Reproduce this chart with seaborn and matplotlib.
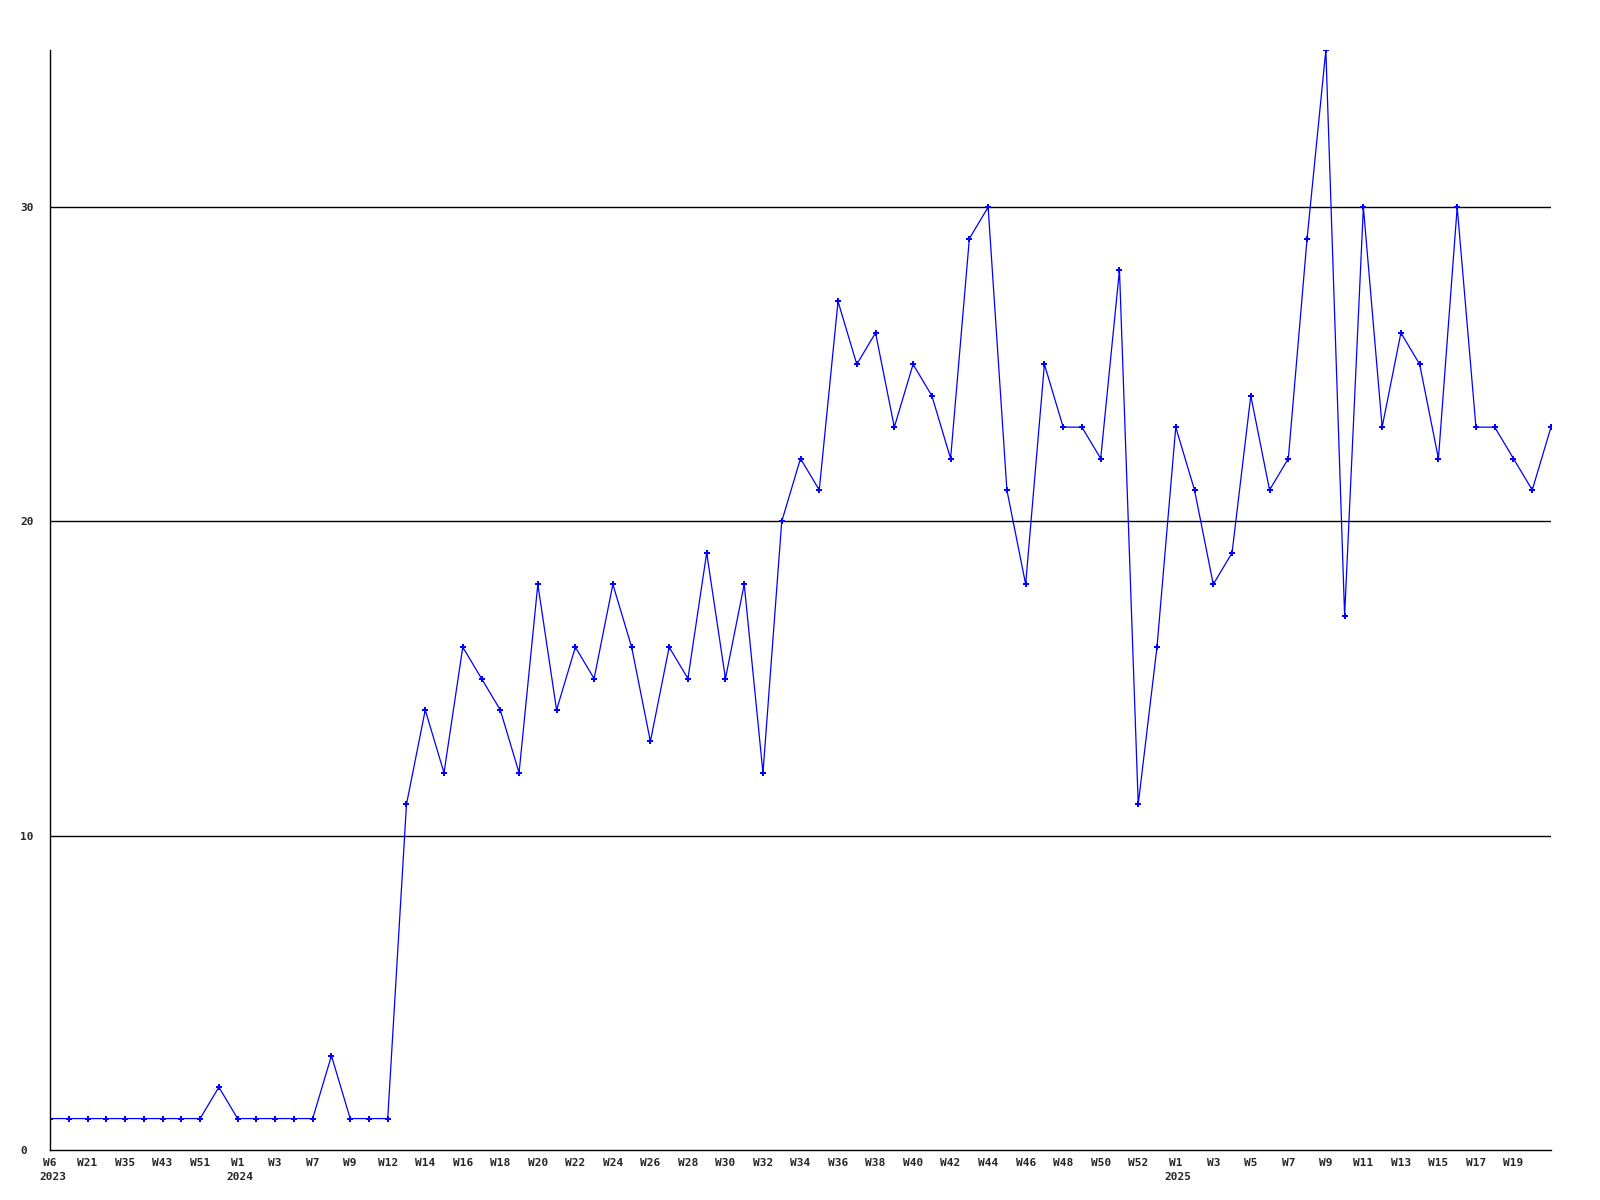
# -*- coding: utf-8 -*-
"""
Weekly count line chart, W6 2023 to W21 2025.
"""

import matplotlib
matplotlib.use("Agg")
import matplotlib.pyplot as plt
import matplotlib.transforms as mtransforms
import seaborn as sns
import pandas as pd
import numpy as np

# weekly values, one per point (weeks without data are skipped)
counts = [1, 1, 1, 1, 1, 1, 1, 1, 1, 2,
          1, 1, 1, 1, 1, 3, 1, 1, 1, 11,
          14, 12, 16, 15, 14, 12, 18, 14, 16, 15,
          18, 16, 13, 16, 15, 19, 15, 18, 12, 20,
          22, 21, 27, 25, 26, 23, 25, 24, 22, 29,
          30, 21, 18, 25, 23, 23, 22, 28, 11, 16,
          23, 21, 18, 19, 24, 21, 22, 29, 35, 17,
          30, 23, 26, 25, 22, 30, 23, 23, 22, 21,
          23]

# every other point carries a label
week_labels = ['W6', 'W21', 'W35', 'W43', 'W51', 'W1', 'W3', 'W7', 'W9', 'W12',
               'W14', 'W16', 'W18', 'W20', 'W22', 'W24', 'W26', 'W28', 'W30', 'W32',
               'W34', 'W36', 'W38', 'W40', 'W42', 'W44', 'W46', 'W48', 'W50', 'W52',
               'W1', 'W3', 'W5', 'W7', 'W9', 'W11', 'W13', 'W15', 'W17', 'W19']
# year markers: (label index, year)
year_marks = [(0, '2023'), (5, '2024'), (30, '2025')]

y_ticks = [0, 10, 20, 30]

df = pd.DataFrame({'idx': np.arange(len(counts)), 'count': counts})

sns.set_style('white')
plt.rcParams['font.family'] = ['DejaVu Sans Mono']
plt.rcParams['font.weight'] = 'bold'

fig = plt.figure(figsize=(16, 12), dpi=100)
ax = fig.add_axes([50 / 1600, 50 / 1200, 1501 / 1600, 1100 / 1200])

sns.lineplot(data=df, x='idx', y='count', ax=ax, color='#0000ff', linewidth=0.9,
             marker='P', markersize=4.5, markeredgewidth=0, markerfacecolor='#0000ff')

ax.set_xlim(0, len(counts) - 1)
ax.set_ylim(0, 35)

# horizontal grid lines
for v in y_ticks[1:]:
    ax.axhline(v, color='black', linewidth=1, zorder=0)

ax.set_yticks(y_ticks)
ax.set_yticklabels([str(v) for v in y_ticks], fontsize=8, fontweight='bold')
for lab in ax.get_yticklabels():
    lab.set_horizontalalignment('left')
ax.tick_params(axis='y', length=0, pad=21.6)

tick_pos = np.arange(0, 2 * len(week_labels), 2)
ax.set_xticks(tick_pos)
ax.set_xticklabels(week_labels, fontsize=8, fontweight='bold')
ax.tick_params(axis='x', length=0, pad=6)

# year under the first week of each year
trans = mtransforms.blended_transform_factory(ax.transData, ax.transAxes)
offset = mtransforms.ScaledTranslation(-11 / 100, -27 / 100, fig.dpi_scale_trans)
for i, yr in year_marks:
    ax.text(tick_pos[i], 0, yr, transform=trans + offset, ha='left', va='center',
            fontsize=8, fontweight='bold')

ax.set_xlabel('')
ax.set_ylabel('')
for s in ['top', 'right']:
    ax.spines[s].set_visible(False)
for s in ['left', 'bottom']:
    ax.spines[s].set_color('black')
    ax.spines[s].set_linewidth(1)

plt.savefig('out.png', dpi=100)
